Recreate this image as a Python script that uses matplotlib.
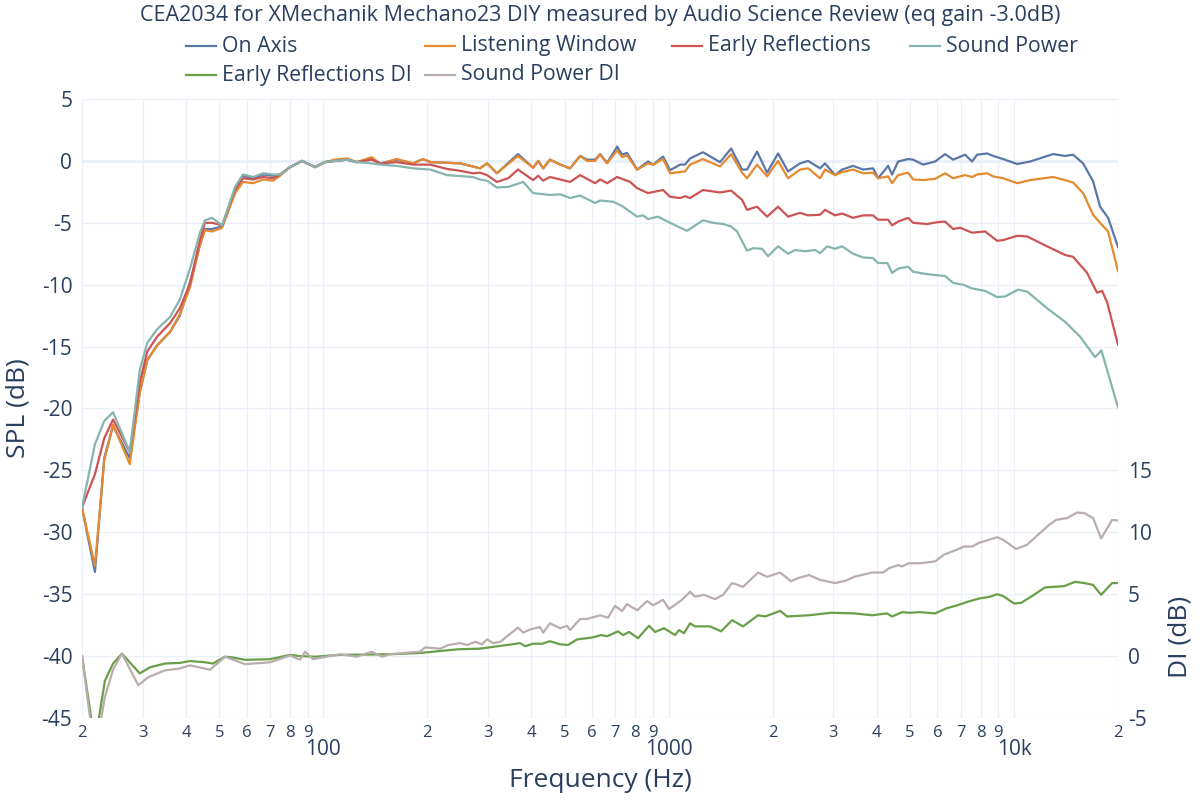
import matplotlib.pyplot as plt
from matplotlib.lines import Line2D

plt.rcParams['font.family'] = ['Open Sans', 'DejaVu Sans']
plt.rcParams['axes.unicode_minus'] = False

# ---- data ----
title = "CEA2034 for XMechanik Mechano23 DIY measured by Audio Science Review (eq gain -3.0dB)"

freq_on = [20, 21.8, 23.2, 24.6, 27.5, 29.4, 30.9, 33, 36, 38.4, 41.1, 43.9, 45.4, 47.6, 50.9,
           55.5, 58.5, 62.6, 66.9, 71.5, 74.9, 80.1, 86.7, 94.6, 101, 108, 117, 125, 138, 146,
           163, 182, 194, 204, 228, 249, 271, 284, 298, 318, 366, 405, 419, 433, 453, 485, 518,
           554, 580, 612, 633, 663, 709, 733, 757, 810, 871, 901, 963, 1009, 1079, 1115, 1153,
           1257, 1408, 1516, 1631, 1686, 1802, 1927, 2073, 2216, 2401, 2533, 2744, 2836, 3032,
           3177, 3419, 3655, 3907, 4040, 4319, 4435, 4616, 4934, 5102, 5453, 5907, 6314, 6661,
           7216, 7560, 7817, 8356, 8697, 9297, 10209, 11131, 12972, 14058, 14828, 15848, 16940,
           17750, 18722, 20000]
spl_on = [-28, -33.2, -24, -21.4, -24, -18.7, -16.1, -14.9, -13.8, -12.5, -9.8, -6.8, -5.5, -5.5,
          -5.3, -2.4, -1.2, -1.4, -1.1, -1.2, -1.1, -0.5, 0.0, -0.5, -0.1, 0.0, 0.1, -0.1, 0.2,
          -0.2, 0.1, -0.2, 0.15, -0.1, -0.15, -0.2, -0.45, -0.6, -0.2, -1.0, 0.55, -0.55, 0.0,
          -0.6, 0.1, -0.3, -0.6, 0.4, 0.1, 0.1, 0.55, -0.15, 1.15, 0.5, 0.65, -0.7, -0.05, -0.3,
          0.35, -0.75, -0.3, -0.3, 0.2, 0.7, -0.1, 1.0, -0.7, -0.7, 0.75, -0.95, 0.6, -0.85, -0.2,
          0.0, -0.6, -0.2, -1.15, -0.7, -0.4, -0.7, -0.6, -1.4, -0.4, -1.1, -0.05, 0.15, 0.1,
          -0.3, -0.05, 0.55, 0.1, 0.5, -0.05, 0.5, 0.6, 0.4, 0.15, -0.25, -0.05, 0.55, 0.4, 0.5,
          -0.2, -1.65, -3.7, -4.6, -6.95]

freq_lw = freq_on
spl_lw = [-28, -32.7, -24.2, -21.3, -24.5, -18.7, -16.1, -14.9, -13.8, -12.4, -10.2, -6.8, -5.6,
          -5.7, -5.4, -2.6, -1.7, -1.8, -1.5, -1.6, -1.2, -0.5, 0.0, -0.5, -0.1, 0.1, 0.2, -0.1,
          0.3, -0.25, 0.15, -0.2, 0.15, -0.1, -0.15, -0.2, -0.45, -0.6, -0.2, -1.0, 0.4, -0.55,
          0.0, -0.6, 0.1, -0.3, -0.6, 0.4, 0.0, 0.0, 0.5, -0.2, 0.85, 0.3, 0.45, -0.7, -0.2, -0.3,
          0.15, -1.0, -0.9, -0.85, -0.3, 0.15, -0.45, 0.55, -0.95, -1.4, -0.3, -1.25, 0.0, -1.4,
          -0.7, -0.6, -1.4, -0.7, -1.15, -0.9, -0.7, -1.0, -0.95, -1.4, -1.25, -1.8, -1.15, -0.95,
          -1.5, -1.55, -1.45, -1.0, -1.4, -1.15, -1.3, -1.1, -1.0, -1.25, -1.4, -1.8, -1.55, -1.3,
          -1.55, -1.75, -2.6, -4.35, -5.0, -5.7, -8.9]

freq_er = [20, 21.8, 23.2, 24.6, 27.5, 29.4, 30.9, 33, 36, 38.4, 41.1, 43.9, 45.4, 47.6, 50.9,
           55.5, 58.5, 62.6, 66.9, 71.5, 74.9, 80.1, 86.7, 94.6, 101, 117, 125, 138, 146, 163,
           182, 194, 204, 228, 249, 271, 284, 298, 318, 343, 366, 405, 419, 433, 453, 485, 518,
           554, 612, 633, 663, 709, 773, 810, 871, 963, 1009, 1079, 1115, 1153, 1257, 1408, 1516,
           1631, 1686, 1802, 1927, 2073, 2216, 2401, 2533, 2744, 2836, 3032, 3177, 3419, 3655,
           3907, 4040, 4319, 4435, 4616, 4934, 5102, 5598, 6000, 6314, 6661, 6978, 7560, 8246,
           8930, 9297, 10209, 10910, 12464, 14058, 14828, 16278, 17396, 17988, 18600, 20000]
spl_er = [-28, -25.3, -22.4, -20.9, -23.5, -17.9, -15.4, -14.2, -13.1, -11.9, -9.9, -6.4, -5.0,
          -5.0, -5.2, -2.3, -1.4, -1.5, -1.3, -1.4, -1.1, -0.5, 0.0, -0.5, -0.1, 0.1, -0.1, 0.1,
          -0.2, -0.1, -0.3, -0.3, -0.3, -0.65, -0.8, -1.0, -0.95, -1.15, -1.7, -1.4, -0.7, -1.55,
          -1.2, -1.6, -1.3, -1.5, -1.7, -1.15, -1.8, -1.5, -1.8, -1.3, -1.7, -2.2, -2.6, -2.35,
          -2.9, -3.0, -2.85, -3.0, -2.35, -2.55, -2.4, -3.15, -3.95, -3.7, -4.5, -3.7, -4.5, -4.2,
          -4.4, -4.35, -3.95, -4.4, -4.25, -4.6, -4.4, -4.4, -4.75, -4.75, -5.2, -4.9, -4.6, -5.0,
          -5.1, -4.95, -4.9, -5.5, -5.4, -5.8, -5.7, -6.45, -6.4, -6.05, -6.1, -6.9, -7.6, -7.75,
          -9.05, -10.65, -10.5, -11.4, -14.85]

freq_sp = [20, 21.8, 23.2, 24.6, 27.5, 29.4, 30.9, 33, 36, 38.4, 41.1, 43.9, 45.4, 47.6, 50.9,
           55.5, 58.5, 62.6, 66.9, 71.5, 74.9, 80.1, 86.7, 94.6, 101, 117, 125, 138, 146, 163,
           182, 204, 228, 271, 284, 298, 318, 343, 379, 405, 453, 485, 518, 554, 612, 633, 690,
           733, 810, 843, 871, 931, 1009, 1130, 1257, 1344, 1440, 1516, 1577, 1686, 1756, 1864,
           1940, 2073, 2216, 2322, 2482, 2654, 2744, 2876, 3032, 3177, 3419, 3655, 3900, 4040,
           4300, 4435, 4616, 4934, 5102, 5598, 6314, 6661, 7118, 7560, 8246, 8930, 9420, 10272,
           10910, 12464, 14058, 15536, 17170, 17900, 20000]
spl_sp = [-28, -22.9, -21.0, -20.3, -23.5, -16.9, -14.7, -13.6, -12.6, -11.2, -8.7, -5.8, -4.8,
          -4.6, -5.2, -2.1, -1.1, -1.3, -1.0, -1.1, -1.1, -0.5, 0.0, -0.5, -0.1, 0.1, -0.1, -0.2,
          -0.3, -0.4, -0.6, -0.7, -1.15, -1.3, -1.5, -1.6, -2.15, -2.1, -1.7, -2.6, -2.75, -2.7,
          -3.0, -2.8, -3.4, -3.2, -3.3, -3.65, -4.5, -4.4, -4.7, -4.5, -5.0, -5.65, -4.8, -5.0,
          -5.1, -5.3, -5.7, -7.25, -7.05, -7.1, -7.7, -6.9, -7.5, -7.2, -7.3, -7.2, -7.45, -6.9,
          -7.1, -6.9, -7.5, -7.8, -7.85, -8.25, -8.25, -9.05, -8.7, -8.55, -8.95, -9.15, -9.3,
          -9.85, -10.0, -10.3, -10.5, -11.0, -10.95, -10.4, -10.55, -11.9, -13.0, -14.2, -15.85,
          -15.3, -19.9]

freq_erdi = [20, 21.8, 23.3, 24.6, 26.1, 29.4, 31.5, 34.8, 38.4, 41.1, 45.4, 47.9, 51.9, 54.4,
             59.3, 70.1, 80.1, 85.6, 94.6, 111.7, 156, 190.5, 245, 284, 310, 352, 371, 384, 405,
             430, 453, 485, 511, 543, 600, 637, 663, 713, 738, 768, 815, 877, 913, 969, 1043,
             1071, 1108, 1153, 1192, 1318, 1418, 1526, 1642, 1815, 1901, 2102, 2202, 2550, 2952,
             3442, 3882, 4290, 4435, 4740, 4966, 5346, 5907, 6358, 6840, 7362, 7922, 8526, 8930,
             9297, 10006, 10484, 11204, 12300, 13964, 15026, 15956, 16940, 17870, 19226, 20000]
di_er = [0, -7, -2.0, -0.6, 0.2, -1.4, -0.9, -0.6, -0.55, -0.4, -0.5, -0.6, -0.05, -0.1, -0.3,
         -0.25, 0.1, 0.0, -0.05, 0.1, 0.15, 0.25, 0.55, 0.6, 0.75, 0.95, 1.05, 0.8, 1.0, 1.0, 1.2,
         0.95, 0.9, 1.35, 1.5, 1.7, 1.6, 2.0, 1.7, 1.95, 1.45, 2.45, 1.95, 2.25, 1.7, 2.1, 1.85,
         2.65, 2.4, 2.4, 2.0, 2.9, 2.4, 3.3, 3.2, 3.65, 3.2, 3.3, 3.5, 3.45, 3.3, 3.45, 3.2, 3.55,
         3.5, 3.55, 3.45, 3.85, 4.1, 4.4, 4.65, 4.8, 5.0, 4.85, 4.25, 4.3, 4.8, 5.55, 5.65, 6.0,
         5.9, 5.75, 4.95, 5.9, 5.9]

freq_spdi = [20, 21.8, 23.3, 24.6, 26.1, 29.1, 31.1, 34.8, 38.4, 41.1, 47.0, 51.9, 59.3, 70.1,
             80.1, 85.6, 88.5, 93.3, 111.7, 125, 138, 148, 156, 170, 190.5, 197, 218, 230, 249,
             261, 275, 288, 298, 310, 325, 366, 379, 397, 424, 433, 453, 485, 508, 518, 554, 580,
             633, 667, 699, 733, 757, 810, 866, 901, 963, 1002, 1093, 1153, 1192, 1266, 1362,
             1437, 1526, 1642, 1815, 1927, 2102, 2260, 2368, 2550, 2744, 3032, 3264, 3442, 3882,
             4176, 4346, 4616, 4740, 4966, 5346, 5907, 6274, 6840, 7168, 7560, 7922, 8930, 9297,
             10140, 10910, 11740, 12632, 13236, 14244, 15226, 15956, 16940, 17870, 19226, 20000]
di_sp = [0, -8, -3.3, -1.1, 0.2, -2.35, -1.7, -1.15, -1.0, -0.75, -1.1, -0.05, -0.65, -0.5, 0.05,
         -0.3, 0.35, -0.25, 0.15, -0.05, 0.35, -0.05, 0.15, 0.25, 0.35, 0.7, 0.6, 0.9, 1.05, 0.9,
         1.15, 0.95, 1.35, 1.05, 1.15, 2.3, 1.9, 2.15, 2.35, 1.9, 2.65, 2.25, 2.45, 2.1, 3.0, 3.0,
         3.3, 3.1, 4.05, 3.65, 4.2, 3.7, 4.45, 4.1, 4.55, 3.8, 4.55, 5.2, 4.8, 4.95, 4.6, 4.95,
         5.9, 5.6, 6.75, 6.4, 6.75, 6.05, 6.3, 6.55, 6.15, 5.9, 6.1, 6.4, 6.75, 6.75, 7.1, 7.35,
         7.25, 7.5, 7.5, 7.65, 8.2, 8.6, 8.85, 8.85, 9.15, 9.6, 9.4, 8.65, 9.0, 9.8, 10.6, 11.0,
         11.15, 11.6, 11.55, 11.15, 9.5, 11.0, 10.95]

spl_ticks = [-45, -40, -35, -30, -25, -20, -15, -10, -5, 0, 5]
di_ticks = [-5, 0, 5, 10, 15]
minor_x = [20, 30, 40, 50, 60, 70, 80, 90, 200, 300, 400, 500, 600, 700, 800, 900,
           2000, 3000, 4000, 5000, 6000, 7000, 8000, 9000, 20000]
minor_lbl = ["2", "3", "4", "5", "6", "7", "8", "9"] * 3 + ["2"]
major_x = [100, 1000, 10000]
major_lbl = ["100", "1000", "10k"]

# ---- styling ----
txt = "#2a3f5f"
grid = "#ebf0f8"
colors = {
    "On Axis": "#5a77a8",
    "Listening Window": "#e58a2e",
    "Early Reflections": "#cc5454",
    "Sound Power": "#86b4ae",
    "Early Reflections DI": "#6a9e48",
    "Sound Power DI": "#b9adad",
}

W, H = 1200, 800
fig = plt.figure(figsize=(12, 8), dpi=100)
ax = fig.add_axes([82 / W, 1 - 718 / H, (1118 - 82) / W, (718 - 99) / H])
ax2 = ax.twinx()

ax.plot(freq_on, spl_on, color=colors["On Axis"], lw=1.6)
ax.plot(freq_lw, spl_lw, color=colors["Listening Window"], lw=1.6)
ax.plot(freq_er, spl_er, color=colors["Early Reflections"], lw=1.6)
ax.plot(freq_sp, spl_sp, color=colors["Sound Power"], lw=1.6)
ax2.plot(freq_erdi, di_er, color=colors["Early Reflections DI"], lw=1.6)
ax2.plot(freq_spdi, di_sp, color=colors["Sound Power DI"], lw=1.6)

ax.set_xscale("log")
ax.set_xlim(20, 20000)
ax.set_ylim(-45, 5)
ax2.set_ylim(-5, 45)

ax.set_yticks(spl_ticks, [str(t) for t in spl_ticks])
ax2.set_yticks(di_ticks, [str(t) for t in di_ticks])
ax.set_xticks(major_x, major_lbl)
ax.set_xticks(minor_x, minor_lbl, minor=True)

ax.tick_params(axis="x", which="major", length=0, pad=15, labelsize=15, labelcolor=txt)
ax.tick_params(axis="x", which="minor", length=0, pad=5, labelsize=12, labelcolor=txt)
ax.tick_params(axis="y", length=0, pad=7, labelsize=15, labelcolor=txt)
ax2.tick_params(axis="y", length=0, pad=7, labelsize=15, labelcolor=txt)

ax.grid(True, which="both", axis="x", color=grid, lw=1)
ax.grid(True, which="major", axis="y", color=grid, lw=1)
ax.axhline(0, color=grid, lw=2, zorder=0)
ax.set_axisbelow(True)
for a in (ax, ax2):
    for s in a.spines.values():
        s.set_visible(False)

ax.set_xlabel("Frequency (Hz)", fontsize=19, color=txt, labelpad=6)
ax.set_ylabel("SPL (dB)", fontsize=19, color=txt, labelpad=8)
fig.text(1180 / W, 1 - 637 / H, "DI (dB)", rotation=90, fontsize=19, color=txt,
         ha="center", va="center")

fig.text(0.5, 1 - 16 / H, title, ha="center", va="center", fontsize=15.5, color=txt)

# legend, laid out like the reference (two rows)
legend_pos = [("On Axis", 186, 46), ("Listening Window", 425, 46),
              ("Early Reflections", 672, 46), ("Sound Power", 910, 46),
              ("Early Reflections DI", 186, 75), ("Sound Power DI", 425, 75)]
for name, x0, y0 in legend_pos:
    fig.add_artist(Line2D([x0 / W, (x0 + 30) / W], [1 - y0 / H, 1 - y0 / H],
                          color=colors[name], lw=1.6))
    fig.text((x0 + 36) / W, 1 - y0 / H, name, ha="left", va="center",
             fontsize=15.3, color=txt)

plt.savefig("out.png", dpi=100)
